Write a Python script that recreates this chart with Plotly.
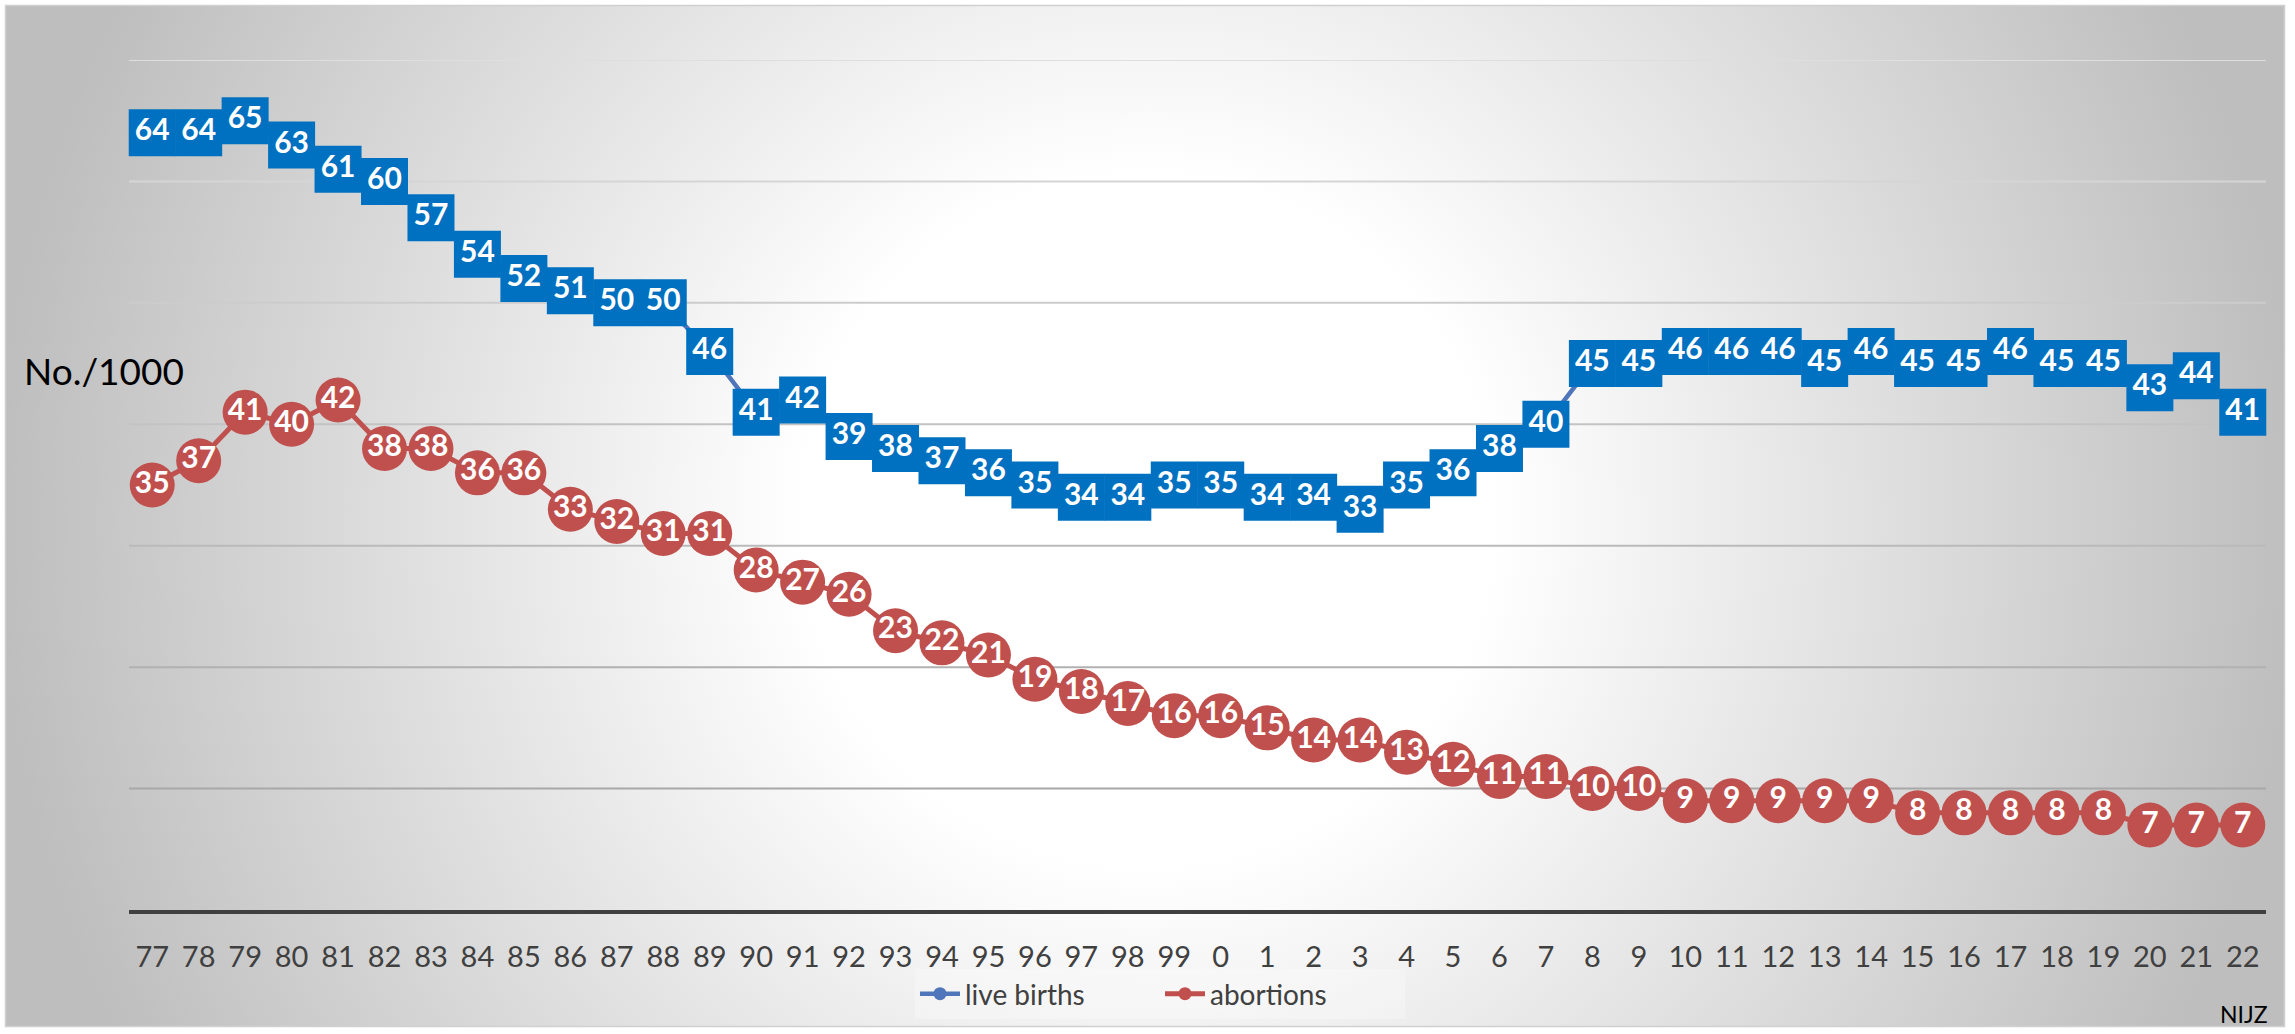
import base64
import plotly.graph_objects as go

# ---------------- data ----------------
years = ["77", "78", "79", "80", "81", "82", "83", "84", "85", "86", "87", "88", "89",
         "90", "91", "92", "93", "94", "95", "96", "97", "98", "99",
         "0", "1", "2", "3", "4", "5", "6", "7", "8", "9", "10", "11", "12", "13",
         "14", "15", "16", "17", "18", "19", "20", "21", "22"]
live_births = [64, 64, 65, 63, 61, 60, 57, 54, 52, 51, 50, 50, 46, 41, 42, 39, 38, 37,
               36, 35, 34, 34, 35,
               35, 34, 34, 33, 35, 36, 38, 40, 45, 45, 46, 46, 46, 45, 46, 45, 45, 46,
               45, 45, 43, 44, 41]
abortions = [35, 37, 41, 40, 42, 38, 38, 36, 36, 33, 32, 31, 31, 28, 27, 26, 23, 22,
             21, 19, 18, 17, 16,
             16, 15, 14, 14, 13, 12, 11, 11, 10, 10, 9, 9, 9, 9, 9, 8, 8, 8, 8, 8,
             7, 7, 7]
series_names = ["live births", "abortions"]
grid_values = [10, 20, 30, 40, 50, 60, 70]

# ---------------- layout constants ----------------
W, H = 2295, 1034
L, R, T, B = 129, 29, 60, 124
PW, PH = W - L - R, H - T - B

BLUE_BOX = "#0070C0"
BLUE_LINE = "#4F76BA"
RED = "#C0504D"
FONT = "Lato"

def px_to_paper_x(px):
    return (px - L) / PW

def px_to_paper_y(py):
    return (H - B - py) / PH

# background: circular radial gradient + thin border
svg = (
    f'<svg xmlns="http://www.w3.org/2000/svg" width="{W}" height="{H}" '
    f'viewBox="0 0 {W} {H}" preserveAspectRatio="none">'
    '<defs><radialGradient id="g" gradientUnits="userSpaceOnUse" '
    'cx="1147" cy="520" r="1150">'
    '<stop offset="0" stop-color="#ffffff"/>'
    '<stop offset="0.3" stop-color="#ffffff"/>'
    '<stop offset="1" stop-color="#bebebe"/>'
    '</radialGradient></defs>'
    f'<rect x="0" y="0" width="{W}" height="{H}" fill="#ffffff"/>'
    '<rect x="5.5" y="5.5" width="2279" height="1021" fill="url(#g)" '
    'stroke="#d0d0d0" stroke-width="1.5"/>'
    '</svg>'
)
bg_src = "data:image/svg+xml;base64," + base64.b64encode(svg.encode()).decode()

fig = go.Figure()

# data traces
fig.add_trace(go.Scatter(
    x=years, y=live_births, name=series_names[0], showlegend=False,
    mode="lines+markers+text",
    line=dict(color=BLUE_LINE, width=4.5),
    marker=dict(symbol="square", size=47, color=BLUE_BOX, line=dict(width=0)),
    text=[str(v) for v in live_births], textposition="middle center",
    textfont=dict(family=FONT, size=30, color="white", weight="bold"),
    cliponaxis=False, hoverinfo="skip",
))
fig.add_trace(go.Scatter(
    x=years, y=abortions, name=series_names[1], showlegend=False,
    mode="lines+markers+text",
    line=dict(color=RED, width=5),
    marker=dict(symbol="circle", size=45, color=RED, line=dict(width=0)),
    text=[str(v) for v in abortions], textposition="middle center",
    textfont=dict(family=FONT, size=30, color="white", weight="bold"),
    cliponaxis=False, hoverinfo="skip",
))

# legend-only entries (line + small circle, as in the original)
fig.add_trace(go.Scatter(
    x=[None], y=[None], name=series_names[0], mode="lines+markers",
    line=dict(color=BLUE_LINE, width=4.5),
    marker=dict(symbol="circle", size=13, color=BLUE_LINE),
))
fig.add_trace(go.Scatter(
    x=[None], y=[None], name=series_names[1], mode="lines+markers",
    line=dict(color=RED, width=5),
    marker=dict(symbol="circle", size=13, color=RED),
))

# gridlines (darker toward the bottom, like the original)
shapes = []
for v in grid_values:
    t = (v - 10) / 60.0
    c = int(round(168 + t * (222 - 168)))
    shapes.append(dict(type="line", xref="paper", x0=0, x1=1, yref="y", y0=v, y1=v,
                       line=dict(color=f"rgb({c},{c},{c})", width=2), layer="below"))

fig.update_layout(
    width=W, height=H,
    margin=dict(l=L, r=R, t=T, b=B),
    paper_bgcolor="white",
    plot_bgcolor="rgba(0,0,0,0)",
    font=dict(family=FONT, color="#404040"),
    showlegend=True,
    legend=dict(
        orientation="h", x=px_to_paper_x(1160), y=px_to_paper_y(994),
        xanchor="center", yanchor="middle",
        font=dict(family=FONT, size=28, color="#404040"),
        bgcolor="rgba(255,255,255,0.25)", itemwidth=40,
        entrywidth=190,
    ),
    xaxis=dict(
        type="category", range=[-0.5, len(years) - 0.5],
        showgrid=False, zeroline=False,
        showline=True, linecolor="#404040", linewidth=4,
        ticks="", tickfont=dict(family=FONT, size=29, color="#404040"),
        ticklabelstandoff=18,
    ),
    yaxis=dict(
        range=[0, 70], showgrid=False, zeroline=False, showticklabels=False,
        showline=False, fixedrange=True,
    ),
    shapes=shapes,
    images=[dict(
        source=bg_src, xref="paper", yref="paper",
        x=px_to_paper_x(0), y=px_to_paper_y(0),
        sizex=W / PW, sizey=H / PH,
        xanchor="left", yanchor="top", sizing="stretch", layer="below",
    )],
    annotations=[
        dict(text="No./1000", xref="paper", yref="paper",
             x=px_to_paper_x(22), y=px_to_paper_y(370),
             xanchor="left", yanchor="middle", showarrow=False,
             font=dict(family=FONT, size=37, color="black")),
        dict(text="NIJZ", xref="paper", yref="paper",
             x=px_to_paper_x(2270), y=px_to_paper_y(1014),
             xanchor="right", yanchor="middle", showarrow=False,
             font=dict(family=FONT, size=23, color="black")),
    ],
)

fig.write_html(
    "out.html",
    config={"displayModeBar": False},
    post_script="document.body.style.margin='0';document.body.style.overflow='hidden';",
)
